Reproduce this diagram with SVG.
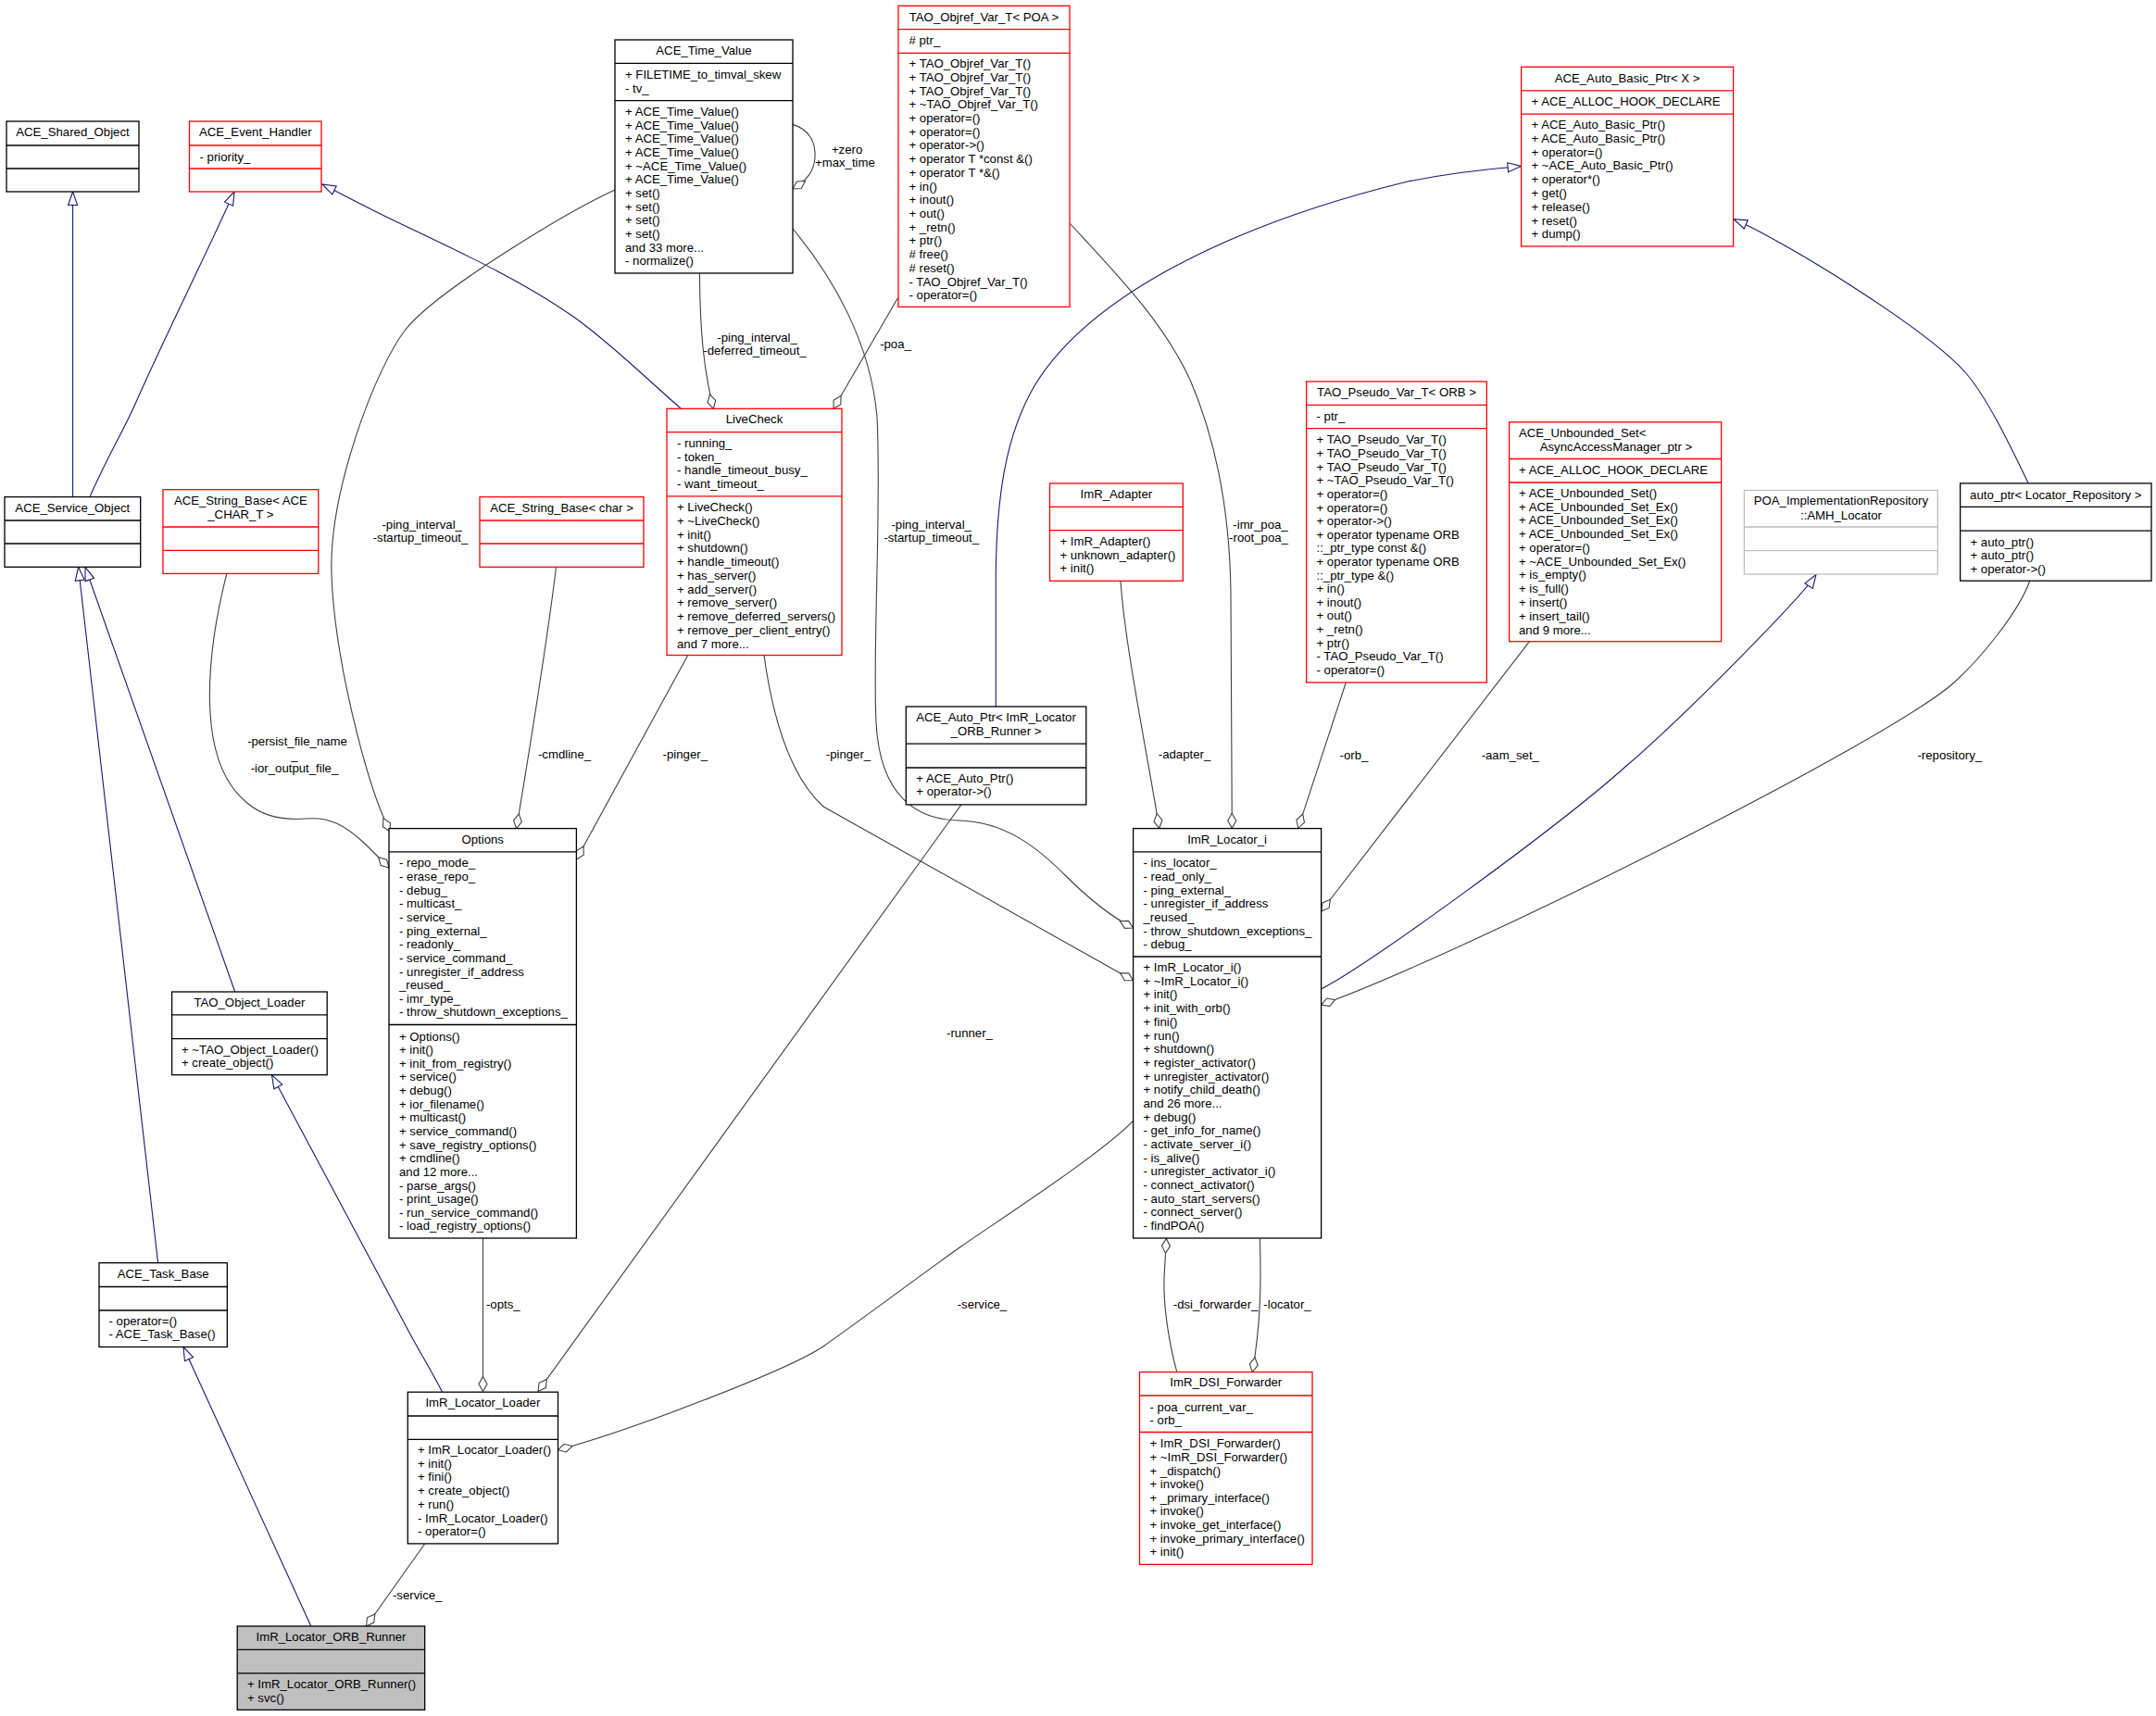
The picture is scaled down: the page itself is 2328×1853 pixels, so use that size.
<svg xmlns="http://www.w3.org/2000/svg" width="2328" height="1853" viewBox="0 0 2328 1853">
<style>
text{font-family:"Liberation Sans",Arial,Helvetica,sans-serif;font-size:13.2px;fill:#000}
.t{text-anchor:middle}
.nb rect,.nb path{fill:#fff;stroke:#000;stroke-width:1.3}
.nr rect,.nr path{fill:#fff;stroke:#ff0000;stroke-width:1.3}
.ng rect,.ng path{fill:#fff;stroke:#bfbfbf;stroke-width:1.3}
.nf rect,.nf path{fill:#bfbfbf;stroke:#000;stroke-width:1.3}
.e{fill:none;stroke:#404040;stroke-width:1.1;marker-end:url(#dia)}
.i{fill:none;stroke:#191970;stroke-width:1.1;marker-end:url(#tri)}
</style>
<defs>
<marker id="tri" markerWidth="20" markerHeight="14" refX="16" refY="6" orient="auto" markerUnits="userSpaceOnUse" overflow="visible"><path d="M1.5,1 L16,6 L1.5,11 Z" fill="#fff" stroke="#191970" stroke-width="1.1"/></marker>
<marker id="dia" markerWidth="20" markerHeight="12" refX="17" refY="5" orient="auto" markerUnits="userSpaceOnUse" overflow="visible"><path d="M1,5 L9,0.5 L17,5 L9,9.5 Z" fill="#fff" stroke="#404040" stroke-width="1.1"/></marker>
</defs>
<rect width="2328" height="1853" fill="#fff"/>

<g id="connectors">
<path class="i" d="M78.6,536.6 L78.6,207"/>
<path class="i" d="M97,536.6 C115,495 135,462 147,434 C175,370 220,280 253,207"/>
<path class="i" d="M735,441 C697,408 662,373 622,344 C562,301 483,266 423,237 C398,225 365,207.5 348,199"/>
<path class="i" d="M335.8,1756 L198,1454.5"/>
<path class="i" d="M170.6,1363.7 L84.6,612.3"/>
<path class="i" d="M253.7,1071 L92,612.3"/>
<path class="i" d="M477.6,1503.2 C465,1478 450,1455 437.8,1431 L293.5,1160.7"/>
<path class="i" d="M1075.3,763 L1075.3,620 C1076,540 1085,470 1118,415 C1180,315 1340,240 1520,196 C1560,188 1600,183 1642.6,179.5"/>
<path class="i" d="M1426.6,1068 C1480,1040 1680,895 1755,828 C1825,768 1946,643.5 1961,620.5"/>
<path class="i" d="M2190,521.5 C2170,480 2145,428 2122,402 C2080,355 1930,262 1872,236.6"/>

<path class="e" d="M856,134.4 C875,140 881,155 880,170 C879,185 872,194 856,204"/>
<path class="e" d="M755.4,295 C756,360 760,400 770.3,441.3"/>
<path class="e" d="M969.9,321 L900,441.3"/>
<path class="e" d="M664,205 C610,230 470,315 437.8,356 C405.8,397 355,530 358,620 C361,710 395,845 421,898"/>
<path class="e" d="M244.8,619.4 C232,670 224,720 227,770 C230,820 245,850 268,868 C285,882 305,886 330,884 C355,882 372,890 395,912 L420,937"/>
<path class="e" d="M600.5,612.3 C590,700 570,820 557.7,894.6"/>
<path class="e" d="M742.5,708 L622.4,928"/>
<path class="e" d="M825,707.5 C835,780 855,840 889,871 L1223.6,1058.7"/>
<path class="e" d="M856,247 C900,300 940,370 947,450 C952,550 942,700 946,780 C950,860 990,885 1035,886 C1085,887 1120,915 1150,945 C1175,970 1200,990 1223.6,1002"/>
<path class="e" d="M1155,241 C1200,290 1255,345 1285,410 C1315,480 1328,560 1329,640 L1330.3,894.3"/>
<path class="e" d="M1210,627.7 C1215,700 1240,820 1251.7,894.3"/>
<path class="e" d="M1453.3,737 L1401.7,894.3"/>
<path class="e" d="M1651.5,692.7 L1426.6,984"/>
<path class="e" d="M2191.7,627.2 C2180,660 2140,710 2110,737 C2040,800 1580,1030 1426.6,1085"/>
<path class="e" d="M1038,868.9 L581,1502.4"/>
<path class="e" d="M1223.6,1210.4 C1190,1245 1090,1310 1038,1345.8 C990,1380 930,1425 888.8,1454 C850,1480 680,1545 602.5,1565.7"/>
<path class="e" d="M521.5,1337 L521.5,1502.4"/>
<path class="e" d="M458.7,1667 L395.5,1756"/>
<path class="e" d="M1270.8,1481.6 C1262,1450 1256,1410 1257,1380 L1259.4,1337.4"/>
<path class="e" d="M1360.4,1337.4 C1362,1390 1361,1430 1352.4,1481.6"/>

<text class="t" x="914.6" y="165.7">+zero</text>
<text class="t" x="912.4" y="180.3">+max_time</text>
<text class="t" x="817.6" y="368.5">-ping_interval_</text>
<text class="t" x="815" y="383.1">-deferred_timeout_</text>
<text class="t" x="967" y="375.7">-poa_</text>
<text class="t" x="1005.7" y="571.3">-ping_interval_</text>
<text class="t" x="1005.7" y="585.2">-startup_timeout_</text>
<text class="t" x="1361" y="571.3">-imr_poa_</text>
<text class="t" x="1359" y="585.2">-root_poa_</text>
<text class="t" x="455.7" y="571.3">-ping_interval_</text>
<text class="t" x="454" y="585.2">-startup_timeout_</text>
<text class="t" x="321" y="805.2">-persist_file_name</text>
<text class="t" x="318" y="820.2">_</text>
<text class="t" x="318" y="834">-ior_output_file_</text>
<text class="t" x="609.5" y="819.4">-cmdline_</text>
<text class="t" x="739.8" y="819.4">-pinger_</text>
<text class="t" x="916" y="819.4">-pinger_</text>
<text class="t" x="1279" y="819.4">-adapter_</text>
<text class="t" x="1462" y="819.6">-orb_</text>
<text class="t" x="1630.8" y="819.6">-aam_set_</text>
<text class="t" x="2105.3" y="819.6">-repository_</text>
<text class="t" x="1047" y="1119.5">-runner_</text>
<text class="t" x="543.3" y="1413.4">-opts_</text>
<text class="t" x="1060.4" y="1413.4">-service_</text>
<text class="t" x="1312.6" y="1413.4">-dsi_forwarder_</text>
<text class="t" x="1390" y="1413.4">-locator_</text>
<text class="t" x="450.7" y="1726.6">-service_</text>
</g>

<g id="ACE_Shared_Object" class="nb">
<rect x="7" y="131" width="143" height="76"/>
<path d="M7,157 H150 M7,182 H150"/>
<text class="t" x="78.5" y="146.7">ACE_Shared_Object</text>
</g>

<g id="ACE_Event_Handler" class="nr">
<rect x="204.5" y="131" width="142.5" height="76"/>
<path d="M204.5,157 H347 M204.5,182 H347"/>
<text class="t" x="275.75" y="146.7">ACE_Event_Handler</text>
<text x="215.5" y="173.5">- priority_</text>
</g>

<g id="ACE_Time_Value" class="nb">
<rect x="664" y="43" width="192" height="252"/>
<path d="M664,68.4 H856 M664,108.7 H856"/>
<text class="t" x="760" y="58.8">ACE_Time_Value</text>
<text x="675" y="85.4">+ FILETIME_to_timval_skew</text>
<text x="675" y="100">- tv_</text>
<text x="675" y="124.9"><tspan x="675">+ ACE_Time_Value()</tspan><tspan x="675" dy="14.66">+ ACE_Time_Value()</tspan><tspan x="675" dy="14.66">+ ACE_Time_Value()</tspan><tspan x="675" dy="14.66">+ ACE_Time_Value()</tspan><tspan x="675" dy="14.66">+ ~ACE_Time_Value()</tspan><tspan x="675" dy="14.66">+ ACE_Time_Value()</tspan><tspan x="675" dy="14.66">+ set()</tspan><tspan x="675" dy="14.66">+ set()</tspan><tspan x="675" dy="14.66">+ set()</tspan><tspan x="675" dy="14.66">+ set()</tspan><tspan x="675" dy="14.66">and 33 more...</tspan><tspan x="675" dy="14.66">- normalize()</tspan></text>
</g>

<g id="TAO_Objref_Var_T_POA" class="nr">
<rect x="970" y="6.3" width="185" height="325.1"/>
<path d="M970,31.6 H1155 M970,57.3 H1155"/>
<text class="t" x="1062.5" y="23.3">TAO_Objref_Var_T&lt; POA &gt;</text>
<text x="981.5" y="48.2"># ptr_</text>
<text x="981.5" y="73.1"><tspan x="981.5">+ TAO_Objref_Var_T()</tspan><tspan x="981.5" dy="14.72">+ TAO_Objref_Var_T()</tspan><tspan x="981.5" dy="14.72">+ TAO_Objref_Var_T()</tspan><tspan x="981.5" dy="14.72">+ ~TAO_Objref_Var_T()</tspan><tspan x="981.5" dy="14.72">+ operator=()</tspan><tspan x="981.5" dy="14.72">+ operator=()</tspan><tspan x="981.5" dy="14.72">+ operator-&gt;()</tspan><tspan x="981.5" dy="14.72">+ operator T *const &amp;()</tspan><tspan x="981.5" dy="14.72">+ operator T *&amp;()</tspan><tspan x="981.5" dy="14.72">+ in()</tspan><tspan x="981.5" dy="14.72">+ inout()</tspan><tspan x="981.5" dy="14.72">+ out()</tspan><tspan x="981.5" dy="14.72">+ _retn()</tspan><tspan x="981.5" dy="14.72">+ ptr()</tspan><tspan x="981.5" dy="14.72"># free()</tspan><tspan x="981.5" dy="14.72"># reset()</tspan><tspan x="981.5" dy="14.72">- TAO_Objref_Var_T()</tspan><tspan x="981.5" dy="14.72">- operator=()</tspan></text>
</g>

<g id="ACE_Auto_Basic_Ptr_X" class="nr">
<rect x="1642.6" y="72.3" width="229" height="193.7"/>
<path d="M1642.6,97.8 H1871.6 M1642.6,123.2 H1871.6"/>
<text class="t" x="1757.1" y="89">ACE_Auto_Basic_Ptr&lt; X &gt;</text>
<text x="1653.5" y="114">+ ACE_ALLOC_HOOK_DECLARE</text>
<text x="1653.5" y="139"><tspan x="1653.5">+ ACE_Auto_Basic_Ptr()</tspan><tspan x="1653.5" dy="14.79">+ ACE_Auto_Basic_Ptr()</tspan><tspan x="1653.5" dy="14.79">+ operator=()</tspan><tspan x="1653.5" dy="14.79">+ ~ACE_Auto_Basic_Ptr()</tspan><tspan x="1653.5" dy="14.79">+ operator*()</tspan><tspan x="1653.5" dy="14.79">+ get()</tspan><tspan x="1653.5" dy="14.79">+ release()</tspan><tspan x="1653.5" dy="14.79">+ reset()</tspan><tspan x="1653.5" dy="14.79">+ dump()</tspan></text>
</g>

<g id="LiveCheck" class="nr">
<rect x="720" y="441.3" width="189" height="266.2"/>
<path d="M720,466.6 H909 M720,535.8 H909"/>
<text class="t" x="814.5" y="457">LiveCheck</text>
<text x="731" y="483.2"><tspan x="731">- running_</tspan><tspan x="731" dy="14.6">- token_</tspan><tspan x="731" dy="14.6">- handle_timeout_busy_</tspan><tspan x="731" dy="14.6">- want_timeout_</tspan></text>
<text x="731" y="552.3"><tspan x="731">+ LiveCheck()</tspan><tspan x="731" dy="14.73">+ ~LiveCheck()</tspan><tspan x="731" dy="14.73">+ init()</tspan><tspan x="731" dy="14.73">+ shutdown()</tspan><tspan x="731" dy="14.73">+ handle_timeout()</tspan><tspan x="731" dy="14.73">+ has_server()</tspan><tspan x="731" dy="14.73">+ add_server()</tspan><tspan x="731" dy="14.73">+ remove_server()</tspan><tspan x="731" dy="14.73">+ remove_deferred_servers()</tspan><tspan x="731" dy="14.73">+ remove_per_client_entry()</tspan><tspan x="731" dy="14.73">and 7 more...</tspan></text>
</g>

<g id="ACE_Service_Object" class="nb">
<rect x="5" y="536.6" width="146.7" height="75.7"/>
<path d="M5,562 H151.7 M5,587 H151.7"/>
<text class="t" x="78.3" y="553.1">ACE_Service_Object</text>
</g>

<g id="ACE_String_Base_ACE_CHAR_T" class="nr">
<rect x="176" y="528.7" width="167.8" height="90.7"/>
<path d="M176,569 H343.8 M176,594.3 H343.8"/>
<text class="t" x="259.9" y="545.3">ACE_String_Base&lt; ACE</text>
<text class="t" x="259.9" y="560.2">_CHAR_T &gt;</text>
</g>

<g id="ACE_String_Base_char" class="nr">
<rect x="518" y="536.6" width="177" height="75.7"/>
<path d="M518,562 H695 M518,587 H695"/>
<text class="t" x="606.5" y="553.1">ACE_String_Base&lt; char &gt;</text>
</g>

<g id="ImR_Adapter" class="nr">
<rect x="1133.5" y="522" width="143.8" height="105.3"/>
<path d="M1133.5,547.4 H1277.3 M1133.5,572.7 H1277.3"/>
<text class="t" x="1205.4" y="538.3">ImR_Adapter</text>
<text x="1144.5" y="589.1"><tspan x="1144.5">+ ImR_Adapter()</tspan><tspan x="1144.5" dy="14.45">+ unknown_adapter()</tspan><tspan x="1144.5" dy="14.45">+ init()</tspan></text>
</g>

<g id="TAO_Pseudo_Var_T_ORB" class="nr">
<rect x="1410.7" y="412" width="194.6" height="325"/>
<path d="M1410.7,437.3 H1605.3 M1410.7,462.7 H1605.3"/>
<text class="t" x="1508" y="428">TAO_Pseudo_Var_T&lt; ORB &gt;</text>
<text x="1421.5" y="454">- ptr_</text>
<text x="1421.5" y="479.4"><tspan x="1421.5">+ TAO_Pseudo_Var_T()</tspan><tspan x="1421.5" dy="14.62">+ TAO_Pseudo_Var_T()</tspan><tspan x="1421.5" dy="14.62">+ TAO_Pseudo_Var_T()</tspan><tspan x="1421.5" dy="14.62">+ ~TAO_Pseudo_Var_T()</tspan><tspan x="1421.5" dy="14.62">+ operator=()</tspan><tspan x="1421.5" dy="14.62">+ operator=()</tspan><tspan x="1421.5" dy="14.62">+ operator-&gt;()</tspan><tspan x="1421.5" dy="14.62">+ operator typename ORB</tspan><tspan x="1421.5" dy="14.62">::_ptr_type const &amp;()</tspan><tspan x="1421.5" dy="14.62">+ operator typename ORB</tspan><tspan x="1421.5" dy="14.62">::_ptr_type &amp;()</tspan><tspan x="1421.5" dy="14.62">+ in()</tspan><tspan x="1421.5" dy="14.62">+ inout()</tspan><tspan x="1421.5" dy="14.62">+ out()</tspan><tspan x="1421.5" dy="14.62">+ _retn()</tspan><tspan x="1421.5" dy="14.62">+ ptr()</tspan><tspan x="1421.5" dy="14.62">- TAO_Pseudo_Var_T()</tspan><tspan x="1421.5" dy="14.62">- operator=()</tspan></text>
</g>

<g id="ACE_Unbounded_Set_AsyncAccessManager_ptr" class="nr">
<rect x="1629.6" y="455.8" width="229" height="236.9"/>
<path d="M1629.6,495.5 H1858.6 M1629.6,521 H1858.6"/>
<text x="1640" y="472.1">ACE_Unbounded_Set&lt;</text>
<text class="t" x="1745" y="487.3">AsyncAccessManager_ptr &gt;</text>
<text x="1640" y="511.7">+ ACE_ALLOC_HOOK_DECLARE</text>
<text x="1640" y="536.8"><tspan x="1640">+ ACE_Unbounded_Set()</tspan><tspan x="1640" dy="14.77">+ ACE_Unbounded_Set_Ex()</tspan><tspan x="1640" dy="14.77">+ ACE_Unbounded_Set_Ex()</tspan><tspan x="1640" dy="14.77">+ ACE_Unbounded_Set_Ex()</tspan><tspan x="1640" dy="14.77">+ operator=()</tspan><tspan x="1640" dy="14.77">+ ~ACE_Unbounded_Set_Ex()</tspan><tspan x="1640" dy="14.77">+ is_empty()</tspan><tspan x="1640" dy="14.77">+ is_full()</tspan><tspan x="1640" dy="14.77">+ insert()</tspan><tspan x="1640" dy="14.77">+ insert_tail()</tspan><tspan x="1640" dy="14.77">and 9 more...</tspan></text>
</g>

<g id="POA_ImplementationRepository_AMH_Locator" class="ng">
<rect x="1883.4" y="529.5" width="208.9" height="90.5"/>
<path d="M1883.4,569 H2092.3 M1883.4,594.6 H2092.3"/>
<text class="t" x="1987.9" y="545.3">POA_ImplementationRepository</text>
<text class="t" x="1987.9" y="560.5">::AMH_Locator</text>
</g>

<g id="auto_ptr_Locator_Repository" class="nb">
<rect x="2116.6" y="521.9" width="206.4" height="105.3"/>
<path d="M2116.6,547.3 H2323 M2116.6,573.2 H2323"/>
<text class="t" x="2219.8" y="538.7">auto_ptr&lt; Locator_Repository &gt;</text>
<text x="2127.5" y="589.5"><tspan x="2127.5">+ auto_ptr()</tspan><tspan x="2127.5" dy="14.5">+ auto_ptr()</tspan><tspan x="2127.5" dy="14.5">+ operator-&gt;()</tspan></text>
</g>

<g id="ACE_Auto_Ptr_ImR_Locator_ORB_Runner" class="nb">
<rect x="978.3" y="763" width="194.5" height="105.9"/>
<path d="M978.3,803.2 H1172.8 M978.3,829 H1172.8"/>
<text class="t" x="1075.5" y="779.1">ACE_Auto_Ptr&lt; ImR_Locator</text>
<text class="t" x="1075.5" y="794.1">_ORB_Runner &gt;</text>
<text x="989.3" y="845.1"><tspan x="989.3">+ ACE_Auto_Ptr()</tspan><tspan x="989.3" dy="14.2">+ operator-&gt;()</tspan></text>
</g>

<g id="Options" class="nb">
<rect x="420" y="894.6" width="202.4" height="442.4"/>
<path d="M420,919.9 H622.4 M420,1106.5 H622.4"/>
<text class="t" x="521.2" y="911.1">Options</text>
<text x="431" y="936.4"><tspan x="431">- repo_mode_</tspan><tspan x="431" dy="14.64">- erase_repo_</tspan><tspan x="431" dy="14.64">- debug_</tspan><tspan x="431" dy="14.64">- multicast_</tspan><tspan x="431" dy="14.64">- service_</tspan><tspan x="431" dy="14.64">- ping_external_</tspan><tspan x="431" dy="14.64">- readonly_</tspan><tspan x="431" dy="14.64">- service_command_</tspan><tspan x="431" dy="14.64">- unregister_if_address</tspan><tspan x="431" dy="14.64">_reused_</tspan><tspan x="431" dy="14.64">- imr_type_</tspan><tspan x="431" dy="14.64">- throw_shutdown_exceptions_</tspan></text>
<text x="431" y="1123.5"><tspan x="431">+ Options()</tspan><tspan x="431" dy="14.64">+ init()</tspan><tspan x="431" dy="14.64">+ init_from_registry()</tspan><tspan x="431" dy="14.64">+ service()</tspan><tspan x="431" dy="14.64">+ debug()</tspan><tspan x="431" dy="14.64">+ ior_filename()</tspan><tspan x="431" dy="14.64">+ multicast()</tspan><tspan x="431" dy="14.64">+ service_command()</tspan><tspan x="431" dy="14.64">+ save_registry_options()</tspan><tspan x="431" dy="14.64">+ cmdline()</tspan><tspan x="431" dy="14.64">and 12 more...</tspan><tspan x="431" dy="14.64">- parse_args()</tspan><tspan x="431" dy="14.64">- print_usage()</tspan><tspan x="431" dy="14.64">- run_service_command()</tspan><tspan x="431" dy="14.64">- load_registry_options()</tspan></text>
</g>

<g id="ImR_Locator_i" class="nb">
<rect x="1223.6" y="894.6" width="203" height="442.4"/>
<path d="M1223.6,919.9 H1426.6 M1223.6,1033 H1426.6"/>
<text class="t" x="1325.1" y="911.1">ImR_Locator_i</text>
<text x="1234.5" y="936.4"><tspan x="1234.5">- ins_locator_</tspan><tspan x="1234.5" dy="14.63">- read_only_</tspan><tspan x="1234.5" dy="14.63">- ping_external_</tspan><tspan x="1234.5" dy="14.63">- unregister_if_address</tspan><tspan x="1234.5" dy="14.63">_reused_</tspan><tspan x="1234.5" dy="14.63">- throw_shutdown_exceptions_</tspan><tspan x="1234.5" dy="14.63">- debug_</tspan></text>
<text x="1234.5" y="1049.1"><tspan x="1234.5">+ ImR_Locator_i()</tspan><tspan x="1234.5" dy="14.68">+ ~ImR_Locator_i()</tspan><tspan x="1234.5" dy="14.68">+ init()</tspan><tspan x="1234.5" dy="14.68">+ init_with_orb()</tspan><tspan x="1234.5" dy="14.68">+ fini()</tspan><tspan x="1234.5" dy="14.68">+ run()</tspan><tspan x="1234.5" dy="14.68">+ shutdown()</tspan><tspan x="1234.5" dy="14.68">+ register_activator()</tspan><tspan x="1234.5" dy="14.68">+ unregister_activator()</tspan><tspan x="1234.5" dy="14.68">+ notify_child_death()</tspan><tspan x="1234.5" dy="14.68">and 26 more...</tspan><tspan x="1234.5" dy="14.68">+ debug()</tspan><tspan x="1234.5" dy="14.68">- get_info_for_name()</tspan><tspan x="1234.5" dy="14.68">- activate_server_i()</tspan><tspan x="1234.5" dy="14.68">- is_alive()</tspan><tspan x="1234.5" dy="14.68">- unregister_activator_i()</tspan><tspan x="1234.5" dy="14.68">- connect_activator()</tspan><tspan x="1234.5" dy="14.68">- auto_start_servers()</tspan><tspan x="1234.5" dy="14.68">- connect_server()</tspan><tspan x="1234.5" dy="14.68">- findPOA()</tspan></text>
</g>

<g id="TAO_Object_Loader" class="nb">
<rect x="185.6" y="1071" width="167.6" height="89.7"/>
<path d="M185.6,1095.8 H353.2 M185.6,1121.6 H353.2"/>
<text class="t" x="269.4" y="1087.1">TAO_Object_Loader</text>
<text x="196" y="1137.7"><tspan x="196">+ ~TAO_Object_Loader()</tspan><tspan x="196" dy="14.6">+ create_object()</tspan></text>
</g>

<g id="ACE_Task_Base" class="nb">
<rect x="107" y="1363.7" width="138.3" height="90.8"/>
<path d="M107,1389.5 H245.3 M107,1415 H245.3"/>
<text class="t" x="176.2" y="1380">ACE_Task_Base</text>
<text x="117.5" y="1431.3"><tspan x="117.5">- operator=()</tspan><tspan x="117.5" dy="14.1">- ACE_Task_Base()</tspan></text>
</g>

<g id="ImR_Locator_Loader" class="nb">
<rect x="440.3" y="1503.2" width="162.2" height="163.7"/>
<path d="M440.3,1529 H602.5 M440.3,1554.4 H602.5"/>
<text class="t" x="521.4" y="1519.2">ImR_Locator_Loader</text>
<text x="451" y="1570"><tspan x="451">+ ImR_Locator_Loader()</tspan><tspan x="451" dy="14.7">+ init()</tspan><tspan x="451" dy="14.7">+ fini()</tspan><tspan x="451" dy="14.7">+ create_object()</tspan><tspan x="451" dy="14.7">+ run()</tspan><tspan x="451" dy="14.7">- ImR_Locator_Loader()</tspan><tspan x="451" dy="14.7">- operator=()</tspan></text>
</g>

<g id="ImR_Locator_ORB_Runner" class="nf">
<rect x="256.2" y="1756" width="202.5" height="90.4"/>
<path d="M256.2,1781.4 H458.7 M256.2,1806.8 H458.7"/>
<text class="t" x="357.5" y="1772">ImR_Locator_ORB_Runner</text>
<text x="267" y="1823.2"><tspan x="267">+ ImR_Locator_ORB_Runner()</tspan><tspan x="267" dy="14.5">+ svc()</tspan></text>
</g>

<g id="ImR_DSI_Forwarder" class="nr">
<rect x="1230.5" y="1481.6" width="186.5" height="207.8"/>
<path d="M1230.5,1507 H1417 M1230.5,1546.5 H1417"/>
<text class="t" x="1323.8" y="1497.1">ImR_DSI_Forwarder</text>
<text x="1241.5" y="1523.7"><tspan x="1241.5">- poa_current_var_</tspan><tspan x="1241.5" dy="14.2">- orb_</tspan></text>
<text x="1241.5" y="1563.3"><tspan x="1241.5">+ ImR_DSI_Forwarder()</tspan><tspan x="1241.5" dy="14.62">+ ~ImR_DSI_Forwarder()</tspan><tspan x="1241.5" dy="14.62">+ _dispatch()</tspan><tspan x="1241.5" dy="14.62">+ invoke()</tspan><tspan x="1241.5" dy="14.62">+ _primary_interface()</tspan><tspan x="1241.5" dy="14.62">+ invoke()</tspan><tspan x="1241.5" dy="14.62">+ invoke_get_interface()</tspan><tspan x="1241.5" dy="14.62">+ invoke_primary_interface()</tspan><tspan x="1241.5" dy="14.62">+ init()</tspan></text>
</g>
</svg>
